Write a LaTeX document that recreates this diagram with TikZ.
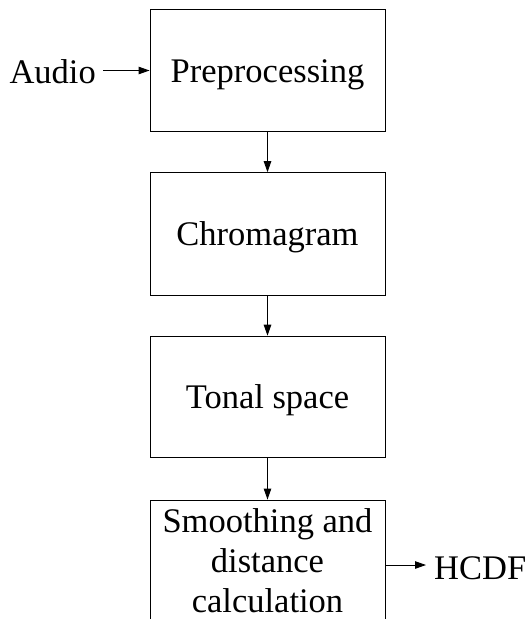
\documentclass[tikz,border=0pt]{standalone}
\usepackage{fontspec}
\setmainfont{Liberation Serif}
\usetikzlibrary{arrows.meta}
\begin{document}
\begin{tikzpicture}[x=1pt,y=-1pt,
  stage/.style={draw, line width=0.9pt, minimum width=235pt, inner sep=0pt,
    align=center, font=\fontsize{34.5}{40}\selectfont},
  oneline/.style={text height=31pt, text depth=8pt},
  lbl/.style={inner sep=0pt, font=\fontsize{34.5}{40}\selectfont},
  flow/.style={line width=0.9pt, -{Triangle[length=11pt,width=7.5pt]}}]
  \useasboundingbox (0,0) rectangle (528,619);
  \clip (0,0) rectangle (528,619);
  % processing chain
  \node[stage, oneline, minimum height=121.5pt] (pre) at (267.5,70.5) {Preprocessing};
  \node[stage, oneline, minimum height=122.5pt] (chroma) at (267.5,233.9) {Chromagram};
  \node[stage, oneline, minimum height=121.5pt] (tonal) at (267.5,396.9) {Tonal space};
  \node[stage, text height=105pt, text depth=11pt, minimum height=130pt] (smooth)
    at (267.5,565) {Smoothing and\\distance\\calculation};
  % input and output labels
  \node[lbl, anchor=base east] (audio) at (96,83) {Audio};
  \node[lbl, anchor=base west] (hcdf) at (434,579) {HCDF};
  % connectors
  \draw[flow] (audio.east |- pre.west) ++(7,0) -- (pre.west);
  \draw[flow] (pre) -- (chroma);
  \draw[flow] (chroma) -- (tonal);
  \draw[flow] (tonal) -- (smooth);
  \draw[flow] (smooth.east) -- ([xshift=-8pt]hcdf.west |- smooth.east);
\end{tikzpicture}
\end{document}
